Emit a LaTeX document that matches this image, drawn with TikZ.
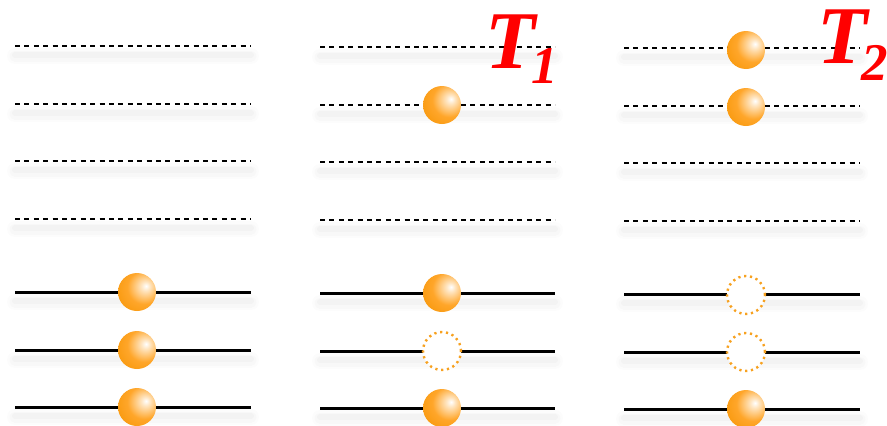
\documentclass[tikz,border=0pt]{standalone}
\usepackage{fontspec}
\setmainfont{Liberation Serif}
\definecolor{ballmid}{HTML}{FFA62A}
\definecolor{balledge}{HTML}{F59300}
\definecolor{ghost}{HTML}{F7A11F}
\pgfdeclareradialshading{orangeball}{\pgfpoint{12bp}{8bp}}{%
  color(0bp)=(white);
  color(6bp)=(white!70!ballmid);
  color(22bp)=(ballmid);
  color(45bp)=(balledge);
  color(50bp)=(balledge);
  color(100bp)=(balledge)}
\begin{document}
\begin{tikzpicture}[x=1pt,y=-1pt,
  shadowa/.style={line width=16pt,draw=black,opacity=0.012,line cap=round},
  shadowb/.style={line width=11pt,draw=black,opacity=0.015,line cap=round},
  shadowc/.style={line width=6pt,draw=black,opacity=0.018,line cap=round},
  emptylevel/.style={line width=2.5pt,draw=black,dash pattern=on 5pt off 4.4pt},
  filledlevel/.style={line width=3pt,draw=black},
  electron/.style={circle,minimum size=38pt,inner sep=0pt,shading=orangeball},
  hole/.style={circle,minimum size=38pt,inner sep=0pt,draw=ghost,line width=2.4pt,dash pattern=on 2.2pt off 3.7pt,fill=white},
  label/.style={text=red,font=\bfseries\itshape,inner sep=0pt,anchor=base west}]
\useasboundingbox (0,0) rectangle (887,426);
% energy levels
\foreach \col/\xa/\xb/\dy in {1/15/251/0, 2/320/555/1, 3/624/860/2}{
  \foreach \row/\yy/\kind in {1/46/emptylevel, 2/104/emptylevel, 3/161/emptylevel, 4/219/emptylevel, 5/292/filledlevel, 6/350/filledlevel, 7/407/filledlevel}{
    \coordinate (l\col\row a) at (\xa,\yy+\dy);
    \coordinate (l\col\row b) at (\xb,\yy+\dy);
    \draw[shadowa] ([yshift=-10pt]l\col\row a) -- ([yshift=-10pt]l\col\row b);
    \draw[shadowb] ([yshift=-10pt]l\col\row a) -- ([yshift=-10pt]l\col\row b);
    \draw[shadowc] ([yshift=-9pt]l\col\row a) -- ([yshift=-9pt]l\col\row b);
    \draw[\kind] (l\col\row a) -- (l\col\row b);
  }
}
% column 1
\node[electron] (e15) at (137,292) {};
\node[electron] (e16) at (137,350) {};
\node[electron] (e17) at (137,407) {};
% column 2
\node[electron] (e22) at (442,105) {};
\node[electron] (e25) at (442,293) {};
\node[hole] (h26) at (442,351) {};
\node[electron] (e27) at (442,408) {};
% column 3
\node[electron] (e31) at (746,50) {};
\node[electron] (e32) at (746,107) {};
\node[hole] (h35) at (746,295) {};
\node[hole] (h36) at (746,352) {};
\node[electron] (e37) at (746,409) {};
% labels
\node[label,font=\bfseries\itshape\fontsize{82}{82}\selectfont] (t1) at (485,68) {T};
\node[label,font=\bfseries\itshape\fontsize{53}{53}\selectfont] (s1) at (531,83) {1};
\node[label,font=\bfseries\itshape\fontsize{82}{82}\selectfont] (t2) at (817,63) {T};
\node[label,font=\bfseries\itshape\fontsize{53}{53}\selectfont] (s2) at (861,80) {2};
\end{tikzpicture}
\end{document}
